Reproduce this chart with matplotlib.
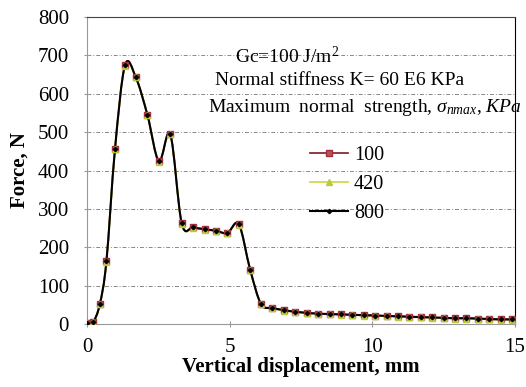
import matplotlib
matplotlib.use("Agg")
import matplotlib.pyplot as plt
from matplotlib.path import Path
from matplotlib.patches import PathPatch
from matplotlib.lines import Line2D

# --- data (vertical displacement in mm, force in N) ---
disp_mm = [0.0, 0.22, 0.45, 0.68, 0.98, 1.33, 1.71, 2.12, 2.52, 2.92,
           3.32, 3.72, 4.12, 4.52, 4.92, 5.32, 5.72,
           6.1, 6.5, 6.9, 7.3, 7.7, 8.1, 8.5, 8.9, 9.3, 9.7, 10.1, 10.5,
           10.9, 11.3, 11.7, 12.1, 12.5, 12.9, 13.3, 13.7, 14.1, 14.5, 14.9]
force_100 = [2, 6, 52, 163, 455, 674, 643, 544, 424, 494,
             262, 252, 247, 243, 237, 260, 141,
             52, 42, 36, 32, 29, 27, 26, 25, 24, 23, 22, 21,
             20, 19, 18, 17, 16, 15, 15, 14, 13, 12, 12]
force_420 = [2, 5, 51, 162, 455, 673, 643, 544, 423, 494,
             261, 251, 246, 242, 236, 259, 140,
             51, 41, 35, 31, 28, 26, 25, 24, 23, 22, 21, 20,
             19, 18, 17, 16, 15, 14, 14, 13, 12, 11, 11]
force_800 = [2, 6, 52, 163, 455, 674, 643, 544, 424, 494,
             262, 252, 247, 243, 237, 260, 141,
             52, 42, 36, 32, 29, 27, 26, 25, 24, 23, 22, 21,
             20, 19, 18, 17, 16, 15, 15, 14, 13, 12, 12]
series_labels = ["100", "420", "800"]

SERIF = "Liberation Serif"
plt.rcParams["font.family"] = SERIF
plt.rcParams["mathtext.fontset"] = "custom"
plt.rcParams["mathtext.rm"] = SERIF
plt.rcParams["mathtext.it"] = SERIF + ":italic"


def smooth_path(x, y):
    """Excel-style smoothed line: cubic Bezier segments through the points."""
    pts = list(zip(x, y))
    verts = [pts[0]]
    codes = [Path.MOVETO]
    n = len(pts)
    for i in range(n - 1):
        p0 = pts[max(i - 1, 0)]
        p1 = pts[i]
        p2 = pts[i + 1]
        p3 = pts[min(i + 2, n - 1)]
        c1 = (p1[0] + (p2[0] - p0[0]) / 6, p1[1] + (p2[1] - p0[1]) / 6)
        c2 = (p2[0] - (p3[0] - p1[0]) / 6, p2[1] - (p3[1] - p1[1]) / 6)
        verts += [c1, c2, p2]
        codes += [Path.CURVE4] * 3
    return Path(verts, codes)


fig = plt.figure(figsize=(5.26, 3.87), dpi=100)
ax = fig.add_axes([87 / 526, 1 - 324 / 387, (515 - 87) / 526, (324 - 17) / 387])

styles = [
    dict(color="#8c2a3c", marker="s", markersize=4.5, markerfacecolor="#c0504d",
         markeredgecolor="#a03040", linewidth=1.3),
    dict(color="#d0d850", marker="^", markersize=5, markerfacecolor="#bcc840",
         markeredgecolor="#bcc840", linewidth=1.3),
    dict(color="black", marker="D", markersize=2.2, markerfacecolor="black",
         markeredgecolor="black", linewidth=1.5),
]
handles = []
for ys, st, lab in zip([force_100, force_420, force_800], styles, series_labels):
    ax.add_patch(PathPatch(smooth_path(disp_mm, ys), facecolor="none",
                           edgecolor=st["color"], linewidth=st["linewidth"], zorder=2))
    ax.plot(disp_mm, ys, linestyle="none", marker=st["marker"],
            markersize=st["markersize"], markerfacecolor=st["markerfacecolor"],
            markeredgecolor=st["markeredgecolor"], zorder=3)
    handles.append(Line2D([], [], label=lab, **st))

ax.set_xlim(0, 15)
ax.set_ylim(0, 800)
ax.set_xticks([0, 5, 10, 15])
ax.set_yticks(range(0, 801, 100))
ax.tick_params(labelsize=15, length=4, direction="inout", color="#999999")
ax.tick_params(axis="x", pad=8)
ax.tick_params(axis="y", pad=11)
ax.grid(axis="y", color="#888888", linestyle=(0, (4, 2, 1, 2)), linewidth=0.7)
ax.set_axisbelow(True)

for side in ["left", "bottom"]:
    ax.spines[side].set_color("#999999")
ax.spines["top"].set_color("#444444")
ax.spines["right"].set_color("black")

ax.set_xlabel("Vertical displacement, mm", fontsize=15, fontweight="bold", labelpad=0)
ax.set_ylabel("Force, N", fontsize=15, fontweight="bold", labelpad=6)

ax.text(5.19, 698, "Gc=100 J/m$^2$", fontsize=14, va="center", ha="left")
ax.text(4.49, 635, "Normal stiffness K= 60 E6 KPa", fontsize=14, va="center", ha="left")
ax.text(4.24, 565, r"Maximum  normal  strength, $\sigma_{nmax}$, $KPa$",
        fontsize=14, va="center", ha="left", clip_on=False)

ax.legend(handles=handles, loc="upper left", bbox_to_anchor=(0.478, 0.639),
          frameon=False, fontsize=14.5, handlelength=1.9, handletextpad=0.3,
          labelspacing=0.5)

fig.savefig("out.png", dpi=100)
